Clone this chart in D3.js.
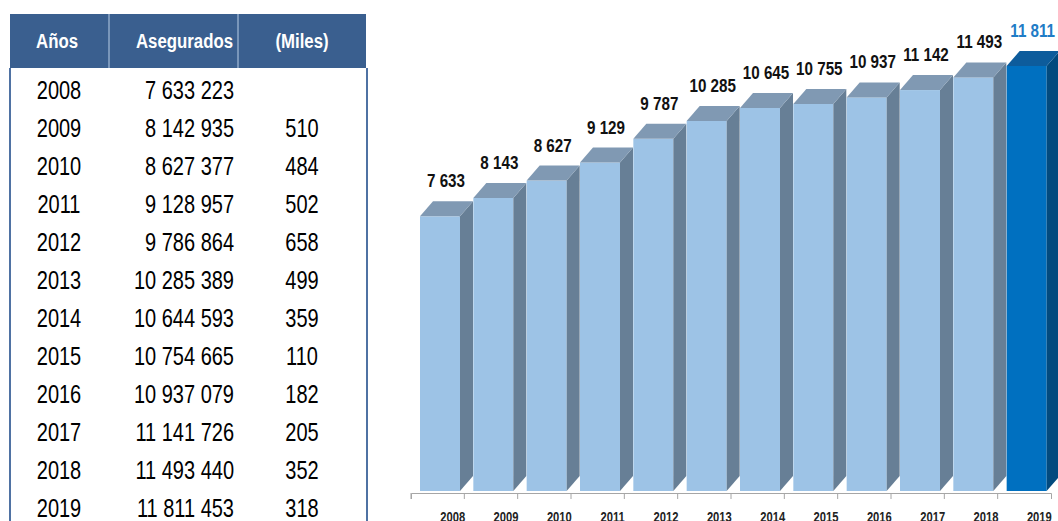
<!DOCTYPE html>
<meta charset="utf-8">
<script src="https://d3js.org/d3.v7.min.js"></script>
<style>
  body { margin: 0; background: #fff; }
  svg { display: block; }
</style>
<body>
<svg></svg>
<script>

    var width = 1058;
    var height = 521;

    // data
    var years = ["2008", "2009", "2010", "2011", "2012", "2013", "2014", "2015", "2016", "2017", "2018", "2019"];
    var asegurados = [7633223, 8142935, 8627377, 9128957, 9786864, 10285389, 10644593, 10754665, 10937079, 11141726, 11493440, 11811453];
    var miles = [null, 510, 484, 502, 658, 499, 359, 110, 182, 205, 352, 318];
    var thousands = [7633, 8143, 8627, 9129, 9787, 10285, 10645, 10755, 10937, 11142, 11493, 11811];
    var headers = ["Años", "Asegurados", "(Miles)"];

    // no narrow font available, so squeeze a normal one horizontally
    var font = "'Liberation Sans', Arial, sans-serif";
    var squeeze = 0.8;
    var loc = d3.formatLocale({decimal: ",", thousands: " ", grouping: [3], currency: ["", ""]});
    var fmt = loc.format(",d");

    var place = (px, py) => `translate(${px},${py}) scale(${squeeze},1)`;

    var svg = d3.select("svg")
        .attr("width", width)
        .attr("height", height)
        .attr("viewBox", [0, 0, width, height]);

    // ---------- table ----------
    var tbl = {left: 10, right: 366, top: 14, headH: 54, rowH: 38, firstRow: 90};
    var cols = [10, 109, 238, 366];

    svg.append("rect")
        .attr("x", tbl.left).attr("y", tbl.top)
        .attr("width", tbl.right - tbl.left).attr("height", tbl.headH)
        .attr("fill", "#3a5f8f");

    svg.selectAll(".hsep")
        .data(cols.slice(1, 3))
        .join("line")
        .attr("x1", d => d).attr("x2", d => d)
        .attr("y1", tbl.top).attr("y2", tbl.top + tbl.headH)
        .attr("stroke", "#8fa9c9").attr("stroke-width", 1.5);

    // side borders of the body
    svg.selectAll(".vb")
        .data([tbl.left, tbl.right + 1])
        .join("line")
        .attr("x1", d => d).attr("x2", d => d)
        .attr("y1", tbl.top + tbl.headH).attr("y2", height)
        .attr("stroke", "#4f72a3").attr("stroke-width", 2);

    var headX = [57, 233, 302];
    var headAnchor = ["middle", "end", "middle"];
    svg.selectAll(".head")
        .data(headers)
        .join("text")
        .attr("transform", (d, i) => place(headX[i], 48))
        .attr("text-anchor", (d, i) => headAnchor[i])
        .attr("fill", "#fff")
        .attr("font-family", font)
        .attr("font-weight", "bold")
        .attr("font-size", 21)
        .text(d => d);

    var rowY = d3.scaleLinear().domain([0, 1]).range([tbl.firstRow, tbl.firstRow + tbl.rowH]);
    var rows = svg.selectAll(".row")
        .data(years)
        .join("g")
        .attr("transform", (d, i) => `translate(0,${rowY(i) + 9})`)
        .attr("font-family", font)
        .attr("font-size", 25)
        .attr("fill", "#000");

    rows.append("text").attr("transform", place(59, 0)).attr("text-anchor", "middle").text(d => d);
    rows.append("text").attr("transform", place(234, 0)).attr("text-anchor", "end").text((d, i) => fmt(asegurados[i]));
    rows.append("text").attr("transform", place(302, 0)).attr("text-anchor", "middle").text((d, i) => miles[i] == null ? "" : miles[i]);

    // ---------- 3D bar chart ----------
    var base = 491;
    var depthX = 13, depthY = 15;

    var x = d3.scaleBand()
        .domain(years)
        .range([411, 1051]);

    var y = d3.scaleLinear()
        .domain([0, 11811])
        .range([base, 66]);

    var frontW = 40, offset = 9;
    var lightCol = {front: "#9dc3e6", top: "#8099b3", side: "#677f96"};
    var darkCol = {front: "#0070c0", top: "#0d5c9c", side: "#024a7e"};

    var data = years.map((yr, i) => ({year: yr, v: thousands[i], last: i === years.length - 1}));

    var bars = svg.append("g").selectAll("g")
        .data(data)
        .join("g");

    bars.append("rect")
        .attr("x", d => x(d.year) + offset)
        .attr("y", d => y(d.v))
        .attr("width", frontW)
        .attr("height", d => base - y(d.v))
        .attr("fill", d => d.last ? darkCol.front : lightCol.front);

    bars.append("polygon")
        .attr("points", d => {
            var x0 = x(d.year) + offset, x1 = x0 + frontW, t = y(d.v);
            return [[x1, t], [x1 + depthX, t - depthY], [x1 + depthX, base - depthY], [x1, base]].join(" ");
        })
        .attr("fill", d => d.last ? darkCol.side : lightCol.side);

    bars.append("polygon")
        .attr("points", d => {
            var x0 = x(d.year) + offset, x1 = x0 + frontW, t = y(d.v);
            return [[x0, t], [x0 + depthX, t - depthY], [x1 + depthX, t - depthY], [x1, t]].join(" ");
        })
        .attr("fill", d => d.last ? darkCol.top : lightCol.top);

    bars.append("text")
        .attr("transform", d => place(x(d.year) + offset + frontW / 2 + 6, y(d.v) - depthY - 14))
        .attr("text-anchor", "middle")
        .attr("font-family", font)
        .attr("font-weight", "bold")
        .attr("font-size", 19)
        .attr("fill", d => d.last ? "#1f7cc6" : "#111")
        .text(d => fmt(d.v));

    // axis
    var gx = svg.append("g")
        .attr("transform", `translate(0,493)`)
        .call(d3.axisBottom(x).tickSize(6).tickSizeOuter(6));

    gx.select(".domain").attr("stroke", "#a6a6a6");
    gx.selectAll(".tick line")
        .attr("stroke", "#a6a6a6")
        .attr("x1", -x.bandwidth() / 2)
        .attr("x2", -x.bandwidth() / 2);
    gx.selectAll(".tick text")
        .attr("y", null)
        .attr("dy", null)
        .attr("transform", place(15, 29))
        .attr("font-family", font)
        .attr("font-weight", "bold")
        .attr("font-size", 14)
        .attr("fill", "#222");

</script>
</body>
